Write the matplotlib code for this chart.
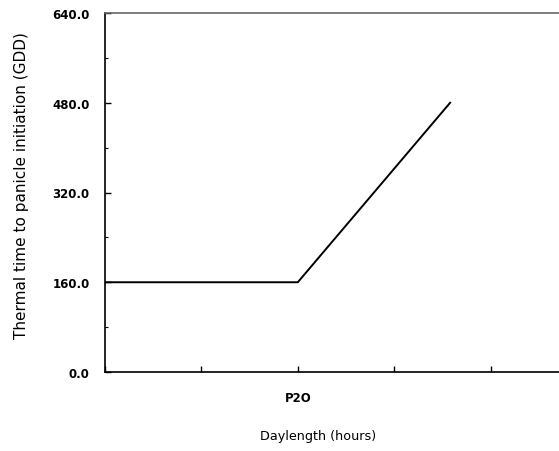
import matplotlib
matplotlib.use("Agg")
import matplotlib.pyplot as plt
from matplotlib.ticker import MultipleLocator

# Data (generic daylength units; P2O = critical daylength)
daylength = [0.0, 2.0, 3.58]
thermal_time = [160.0, 160.0, 480.0]
x_ticks = [0, 1, 2, 3, 4, 5]
x_tick_labels = ["", "", "P2O", "", "", ""]
y_ticks = [0, 160, 320, 480, 640]
y_tick_labels = ["0.0", "160.0", "320.0", "480.0", "640.0"]

plt.rcParams['font.family'] = ['DejaVu Sans']

fig = plt.figure(figsize=(5.59, 4.52), dpi=100)
W, H = 559, 452
left, right, top, bottom = 105, 587, 14, 373
ax = fig.add_axes([left / W, (H - bottom) / H, (right - left) / W, (bottom - top) / H])

ax.plot(daylength, thermal_time, color="black", linewidth=1.4)

ax.set_xlim(0, 5)
ax.set_ylim(0, 640)
ax.set_xticks(x_ticks)
ax.set_xticklabels(x_tick_labels, fontsize=8.5, fontweight="bold")
ax.set_yticks(y_ticks)
ax.set_yticklabels(y_tick_labels, fontsize=8.5, fontweight="bold")
ax.yaxis.set_minor_locator(MultipleLocator(80))

ax.tick_params(axis="both", which="major", direction="in", length=4, width=1, color="black")
ax.tick_params(axis="y", which="major", pad=11)
ax.tick_params(axis="x", which="major", pad=14)
ax.tick_params(axis="y", which="minor", direction="in", length=2.5, width=0.8)

for side in ["left", "bottom"]:
    ax.spines[side].set_color("black")
    ax.spines[side].set_linewidth(1.2)
ax.spines["top"].set_color("#666666")
ax.spines["top"].set_linewidth(1.2)
ax.spines["right"].set_color("#666666")

fig.text(22 / W, 1 - 186 / H, "Thermal time to panicle initiation (GDD)",
         rotation=90, ha="center", va="center", fontsize=11)
fig.text(318 / W, 1 - 437 / H, "Daylength (hours)", ha="center", va="center", fontsize=9.2)

fig.savefig("out.png", dpi=100)
